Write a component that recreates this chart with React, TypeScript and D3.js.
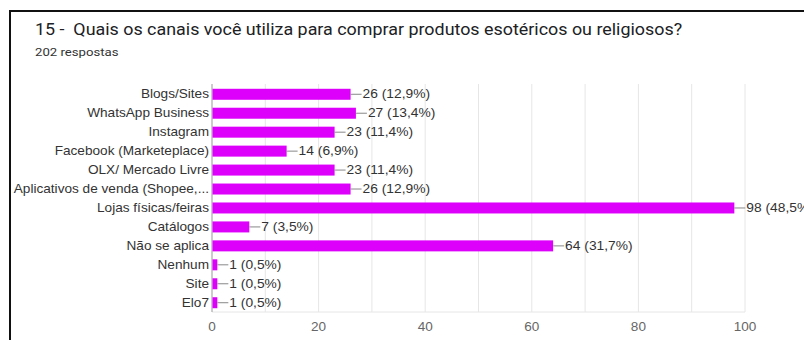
import React from "react";
import * as d3 from "d3";

const categories = [
  "Blogs/Sites",
  "WhatsApp Business",
  "Instagram",
  "Facebook (Marketeplace)",
  "OLX/ Mercado Livre",
  "Aplicativos de venda (Shopee,...",
  "Lojas físicas/feiras",
  "Catálogos",
  "Não se aplica",
  "Nenhum",
  "Site",
  "Elo7",
];
const counts = [26, 27, 23, 14, 23, 26, 98, 7, 64, 1, 1, 1];
const percents = ["12,9%", "13,4%", "11,4%", "6,9%", "11,4%", "12,9%", "48,5%", "3,5%", "31,7%", "0,5%", "0,5%", "0,5%"];
const tickValues = [0, 20, 40, 60, 80, 100];
const gridValues = [10, 20, 30, 40, 50, 60, 70, 80, 90, 100];

const title = "15 -  Quais os canais você utiliza para comprar produtos esotéricos ou religiosos?";
const subtitle = "202 respostas";

const W = 804;
const H = 340;
const TITLE_FONT = "Roboto, Arial, sans-serif";
const LABEL_FONT = "'Liberation Sans', Arial, sans-serif";
const SX = 1.15;

function SText({ x, y, anchor = "start", size = 12, fill = "#333", font = LABEL_FONT, sx = SX, children }: any) {
  return (
    <g transform={`translate(${x},${y}) scale(${sx},1)`}>
      <text x={0} y={0} dy="0.35em" textAnchor={anchor} fontSize={size} fill={fill} fontFamily={font} style={{ whiteSpace: "pre" }}>
        {children}
      </text>
    </g>
  );
}

export default function App() {
  const x = d3.scaleLinear().domain([0, 100]).range([212, 745]);
  const y = d3.scaleBand<string>().domain(categories).range([84.8, 312.2]).paddingInner(0.42).paddingOuter(0.21);
  const barColor = "#dd00fb";
  return (
    <svg width={W} height={H} style={{ position: "absolute", left: 0, top: 0, background: "#fff" }}>
      <rect x={10} y={11} width={W + 10} height={H + 10} fill="none" stroke="#111" strokeWidth={2} />
      <g transform="translate(35,35) scale(1.065,1)">
        <text x={0} y={0} fontSize={16.8} fill="#202124" fontFamily={TITLE_FONT} style={{ whiteSpace: "pre" }}>{title}</text>
      </g>
      <g transform="translate(35,56) scale(1.2,1)">
        <text x={0} y={0} fontSize={11} fill="#333" fontFamily={TITLE_FONT}>{subtitle}</text>
      </g>
      {gridValues.map((v) => (
        <line key={v} x1={x(v)} x2={x(v)} y1={84} y2={312} stroke="#e6e6e6" strokeWidth={1} />
      ))}
      <line x1={x(0)} x2={x(100)} y1={312} y2={312} stroke="#e6e6e6" strokeWidth={1} />
      <line x1={x(0)} x2={x(0)} y1={84} y2={312} stroke="#999" strokeWidth={1} />
      {categories.map((c, i) => {
        const yy = y(c)!;
        const bw = y.bandwidth();
        const cy = yy + bw / 2;
        const xe = x(counts[i]);
        return (
          <g key={c}>
            <rect x={x(0) + 0.5} y={yy} width={xe - x(0) - 0.5} height={bw} fill={barColor} />
            <SText x={209} y={cy} anchor="end" sx={1.135}>{c}</SText>
            <line x1={xe} x2={xe + 11} y1={cy} y2={cy} stroke="#888" strokeWidth={1} />
            <SText x={xe + 12} y={cy}>{`${counts[i]} (${percents[i]})`}</SText>
          </g>
        );
      })}
      {tickValues.map((v) => (
        <SText key={v} x={x(v)} y={327} anchor="middle" fill="#666" sx={1.13}>{v}</SText>
      ))}
    </svg>
  );
}
